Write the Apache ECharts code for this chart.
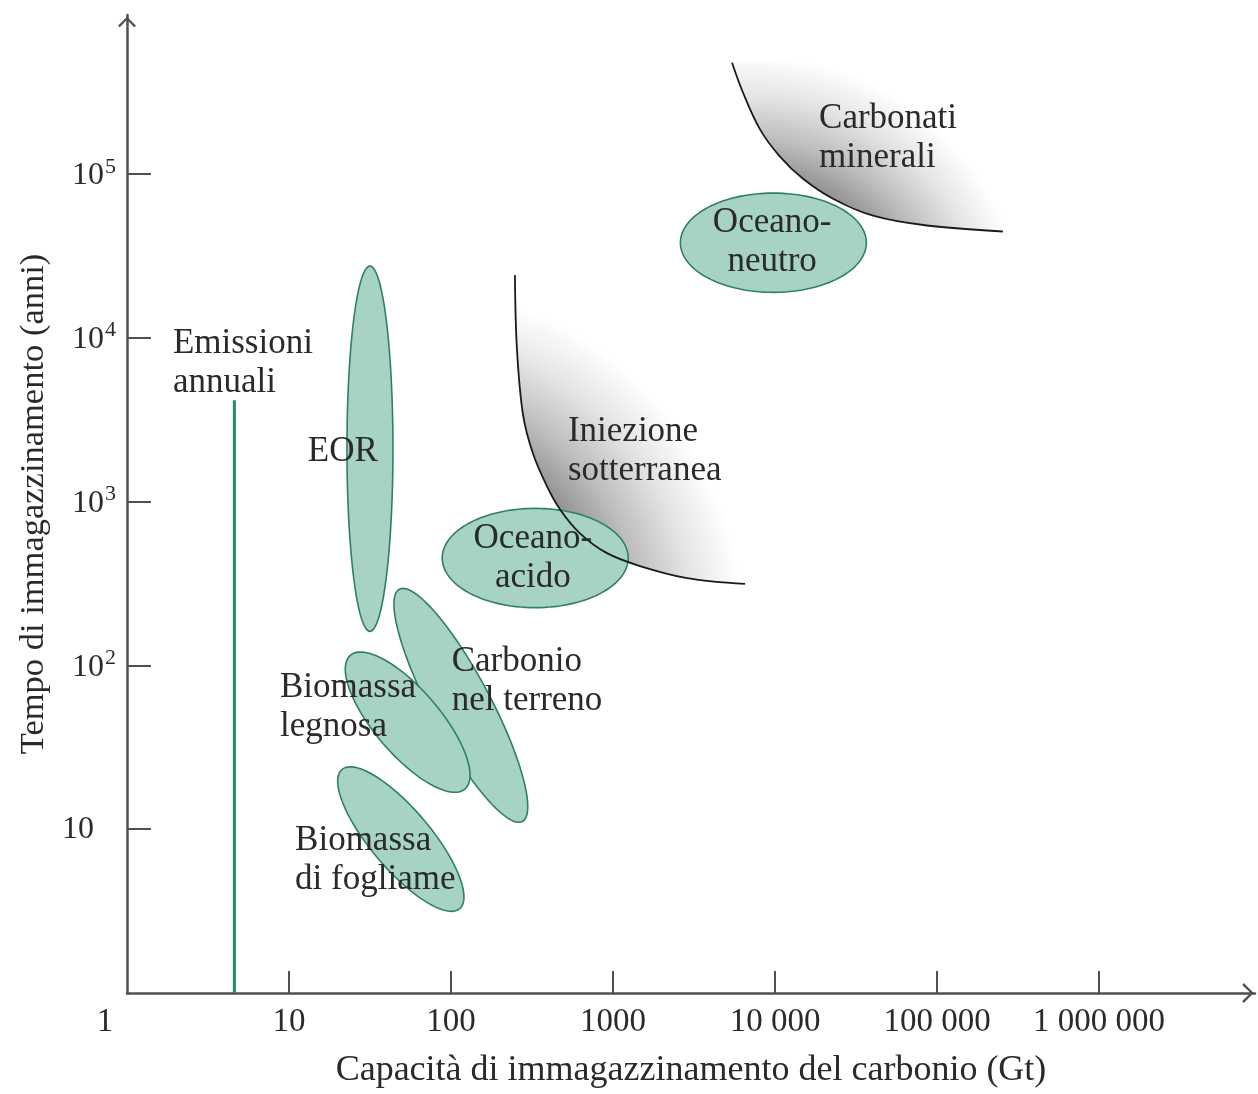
<!DOCTYPE html>
<html><head><meta charset="utf-8">
<script src="https://cdn.jsdelivr.net/npm/echarts@6/dist/echarts.min.js"></script>
<style>html,body{margin:0;padding:0;background:#fff}#c{width:1258px;height:1094px}</style>
</head><body><div id="c"></div>
<script>
// ---- axis ticks / labels ----
const xTickValues = [10, 100, 1000, 10000, 100000, 1000000];
const xLabelValues = [1, 10, 100, 1000, 10000, 100000, 1000000];
const xTickLabels = ['1', '10', '100', '1000', '10 000', '100 000', '1 000 000'];
const yTickValues = [10, 100, 1000, 10000, 100000];
const yTickLabels = ['10', '10{s|2}', '10{s|3}', '10{s|4}', '10{s|5}'];
const xAxisName = 'Capacità di immagazzinamento del carbonio (Gt)';
const yAxisName = 'Tempo di immagazzinamento (anni)';

// ---- ellipses (center x, center y, semi-axis a [decades], semi-axis b [decades], angle deg) ----
const ellipseNames = ['EOR', 'Oceano-acido', 'Oceano-neutro', 'Carbonio nel terreno', 'Biomassa legnosa', 'Biomassa di fogliame'];
const ellipseCX = [31.6, 331, 9770, 115, 54, 49];
const ellipseCY = [2100, 452, 38000, 57, 45, 8.7];
const ellipseA = [1.115, 0.574, 0.574, 0.804, 0.54, 0.559];
const ellipseB = [0.142, 0.303, 0.303, 0.184, 0.20, 0.184];
const ellipseAngle = [90, 0, 0, -61.8, -49, -49.4];

// ---- Emissioni annuali line ----
const emissX = [4.6, 4.6];
const emissY = [1, 4150];

// ---- boundary curves ----
const iniezioneX = [248, 255, 278, 321, 392, 471, 625, 918, 1468, 2864, 6530];
const iniezioneY = [24100, 8700, 3410, 1955, 1233, 895, 640, 484, 404, 341, 314];
const carbonatiX = [5430, 6340, 8080, 10700, 14900, 22800, 40300, 86700, 255000];
const carbonatiY = [477000, 314000, 187000, 128000, 93300, 70500, 55600, 48400, 44500];

// ---- text annotations ----
const noteTexts = ['Emissioni\nannuali', 'EOR', 'Oceano-\nacido', 'Oceano-\nneutro', 'Iniezione\nsotterranea', 'Carbonati\nminerali', 'Carbonio\nnel terreno', 'Biomassa\nlegnosa', 'Biomassa\ndi fogliame'];
const noteX = [1.92, 21.5, 320, 9600, 527, 18700, 101, 8.8, 10.9];
const noteY = [7000, 2000, 452, 38000, 2020, 165000, 80, 55.6, 6.5];
const noteAlign = ['left', 'center', 'center', 'center', 'left', 'left', 'left', 'left', 'left'];

const FONT = '"Liberation Serif", "DejaVu Serif", serif';
const AXIS_COLOR = '#505050';
const FILL = '#a6d3c4';
const EDGE = '#2f7f68';
const TEXT = '#2a2a2a';

const chart = echarts.init(document.getElementById('c'), null, {renderer: 'canvas'});

function ellipseItem(params, api) {
  const i = params.dataIndex;
  const cx = Math.log10(ellipseCX[i]), cy = Math.log10(ellipseCY[i]);
  const a = ellipseA[i], b = ellipseB[i], th = ellipseAngle[i] * Math.PI / 180;
  const pts = [];
  const N = 120;
  for (let k = 0; k < N; k++) {
    const t = 2 * Math.PI * k / N;
    const u = a * Math.cos(t), v = b * Math.sin(t);
    const dx = u * Math.cos(th) - v * Math.sin(th);
    const dy = u * Math.sin(th) + v * Math.cos(th);
    pts.push(api.coord([Math.pow(10, cx + dx), Math.pow(10, cy + dy)]));
  }
  return {type: 'polygon', shape: {points: pts}, style: {fill: FILL, stroke: EDGE, lineWidth: 1.6}};
}

// shaded region on the concave side of a curve; radial fade centred on the convex side
function shadeItem(xs, ys) {
  return function (params, api) {
    const pts = xs.map((x, k) => api.coord([x, ys[k]]));
    const p0 = pts[0], p1 = pts[pts.length - 1];
    const dx = p1[0] - p0[0], dy = p1[1] - p0[1];
    const len = Math.hypot(dx, dy);
    let nx = dy / len, ny = -dx / len;
    let best = 0, knee = p0;
    pts.forEach(p => {
      const d = (p[0] - p0[0]) * nx + (p[1] - p0[1]) * ny;
      if (Math.abs(d) > Math.abs(best)) { best = d; knee = p; }
    });
    if (best > 0) { nx = -nx; ny = -ny; } // n points from knee toward chord
    const D = 0.5 * len, R = 1.75 * D;
    const c = [knee[0] - nx * D, knee[1] - ny * D];
    const k0 = D / R;
    const g = new echarts.graphic.RadialGradient(c[0], c[1], R, [
      {offset: 0, color: '#8f8f8f'},
      {offset: k0, color: '#929292'},
      {offset: k0 + (1 - k0) * 0.3, color: '#bdbdbd'},
      {offset: k0 + (1 - k0) * 0.65, color: '#e4e4e4'},
      {offset: 1, color: '#ffffff'}
    ], true);
    const poly = pts.slice();
    const ext = p1[0] + 0.4 * len;
    poly.push([ext, p1[1]]);
    poly.push([ext, p0[1]]);
    return {type: 'polygon', shape: {points: poly}, style: {fill: g}};
  };
}

function curveItem(xs, ys) {
  return function (params, api) {
    const pts = xs.map((x, k) => api.coord([x, ys[k]]));
    return {type: 'polyline', shape: {points: pts, smooth: 0.35}, style: {stroke: '#1a1a1a', lineWidth: 1.8, fill: 'none'}};
  };
}

const upArrow = 'path://M0,10 L10,0 L20,10 L18,11.5 L10,3.2 L2,11.5 Z';

chart.setOption({
  animation: false,
  backgroundColor: '#ffffff',
  grid: {left: 127, right: 3, top: 15, bottom: 94, containLabel: false},
  xAxis: {
    type: 'log', logBase: 10, min: 1, max: 9.18e6,
    name: xAxisName, nameLocation: 'middle', nameGap: 60,
    nameTextStyle: {fontFamily: FONT, fontSize: 36, color: TEXT},
    axisLine: {lineStyle: {color: AXIS_COLOR, width: 2.5}, symbol: ['none', upArrow], symbolSize: [20, 14], symbolOffset: [0, -7]},
    axisTick: {show: true, inside: true, length: 22, customValues: xTickValues, lineStyle: {color: AXIS_COLOR, width: 2}},
    axisLabel: {
      customValues: xLabelValues, margin: 13,
      fontFamily: FONT, fontSize: 33, color: TEXT,
      formatter: function (v) {
        const idx = xLabelValues.findIndex(x => Math.abs(x - v) / x < 1e-6);
        if (idx === 0) return '{o|' + xTickLabels[0] + '}';
        return idx >= 0 ? xTickLabels[idx] : '';
      },
      rich: {o: {fontFamily: FONT, fontSize: 33, color: TEXT, padding: [0, 44, 0, 0]}}
    },
    splitLine: {show: false}
  },
  yAxis: {
    type: 'log', logBase: 10, min: 1, max: 9.33e5,
    name: yAxisName, nameLocation: 'middle', nameGap: 76, nameRotate: 90,
    nameTextStyle: {fontFamily: FONT, fontSize: 34.5, color: TEXT},
    axisLine: {lineStyle: {color: AXIS_COLOR, width: 2.5}, symbol: ['none', upArrow], symbolSize: [18, 14], symbolOffset: [0, -7]},
    axisTick: {show: true, inside: true, length: 24, customValues: yTickValues, lineStyle: {color: AXIS_COLOR, width: 2}},
    axisLabel: {
      customValues: yTickValues, margin: 11,
      fontFamily: FONT, fontSize: 32, color: TEXT,
      formatter: function (v) {
        const idx = yTickValues.findIndex(x => Math.abs(x - v) / x < 1e-6);
        if (idx < 0) return '';
        if (idx === 0) return '{t|' + yTickLabels[0] + '}';
        return '{b|10}' + yTickLabels[idx].slice(2);
      },
      rich: {
        b: {fontFamily: FONT, fontSize: 32, color: TEXT, lineHeight: 36, verticalAlign: 'bottom'},
        s: {fontFamily: FONT, fontSize: 22, color: TEXT, lineHeight: 36, verticalAlign: 'top', padding: [0, 0, 0, 1]},
        t: {fontFamily: FONT, fontSize: 32, color: TEXT, padding: [0, 22, 0, 0]}
      }
    },
    splitLine: {show: false}
  },
  series: [
    {type: 'custom', z: 1, data: [[1, 1]], renderItem: shadeItem(iniezioneX, iniezioneY), silent: true},
    {type: 'custom', z: 1, data: [[1, 1]], renderItem: shadeItem(carbonatiX, carbonatiY), silent: true},
    {type: 'custom', z: 2, data: ellipseNames.map((n, i) => [ellipseCX[i], ellipseCY[i]]), renderItem: ellipseItem, silent: true},
    {type: 'custom', z: 3, data: [[1, 1]], renderItem: curveItem(iniezioneX, iniezioneY), silent: true},
    {type: 'custom', z: 3, data: [[1, 1]], renderItem: curveItem(carbonatiX, carbonatiY), silent: true},
    {type: 'line', z: 3, data: emissX.map((x, i) => [x, emissY[i]]), symbol: 'none', lineStyle: {color: '#1f8a6a', width: 3}, silent: true},
    {
      type: 'custom', z: 4, data: noteTexts.map((t, i) => [noteX[i], noteY[i]]), silent: true,
      renderItem: function (params, api) {
        const i = params.dataIndex;
        const p = api.coord([noteX[i], noteY[i]]);
        return {type: 'text', x: p[0], y: p[1], style: {
          text: noteTexts[i], fill: TEXT, font: '35px ' + FONT,
          align: noteAlign[i], verticalAlign: 'middle', lineHeight: 39
        }};
      }
    }
  ]
});
</script></body></html>
